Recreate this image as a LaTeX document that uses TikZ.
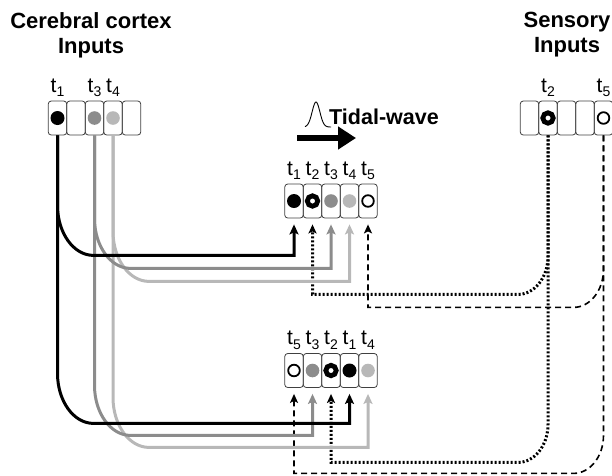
\documentclass[tikz,border=0pt]{standalone}
\usepackage{fontspec}
\setmainfont{Liberation Sans}
\usetikzlibrary{arrows.meta}

\newcommand{\tsub}[1]{t\raisebox{-4.5pt}{\fontsize{14}{14}\selectfont #1}}

\definecolor{midgrey}{gray}{0.55}
\definecolor{lightgrey}{gray}{0.72}

\tikzset{
  cell/.style={draw=black!75,line width=0.8pt,rounded corners=3pt,minimum width=18.5pt,minimum height=34pt,inner sep=0pt},
  tlab/.style={font=\fontsize{21}{21}\selectfont,inner sep=0pt,above=3.5pt},
  title/.style={font=\bfseries\fontsize{22}{25}\selectfont,align=center,anchor=north,inner sep=0pt},
  wire/.style={line width=3pt,shorten >=6pt,-{Stealth[length=10pt,width=9pt,inset=2pt]}},
  dotwire/.style={line width=3pt,dash pattern=on 2pt off 2pt,shorten >=6pt,-{Stealth[length=9pt,width=8pt,inset=2pt]}},
  dashwire/.style={line width=1.6pt,dash pattern=on 6pt off 4pt,shorten >=6pt,-{Stealth[length=9pt,width=8pt,inset=2pt]}}
}

\begin{document}
\begin{tikzpicture}[x=1pt,y=-1pt]
  \useasboundingbox (0,0) rectangle (612,475);
  \clip (0,0) rectangle (612,475);

  % titles
  \node[title] (ctxtitle) at (91,12) {Cerebral cortex\\Inputs};
  \node[title] (sentitle) at (567,12) {Sensory\\Inputs};

  % cell rows
  \foreach \i in {1,...,5} {
    \node[cell] (ctx\i) at ({39+18.5*\i},118) {};
    \node[cell] (sen\i) at ({511+18.5*\i},118) {};
    \node[cell] (top\i) at ({275.5+18.5*\i},201) {};
    \node[cell] (bot\i) at ({275.5+18.5*\i},370.5) {};
  }

  % time labels
  \foreach \i/\t in {1/1,3/3,4/4} \node[tlab] (lctx\i) at (ctx\i.north) {\tsub{\t}};
  \foreach \i/\t in {2/2,5/5} \node[tlab] (lsen\i) at (sen\i.north) {\tsub{\t}};
  \foreach \i in {1,...,5} \node[tlab] (ltop\i) at (top\i.north) {\tsub{\i}};
  \foreach \i/\t in {1/5,2/3,3/2,4/1,5/4} \node[tlab] (lbot\i) at (bot\i.north) {\tsub{\t}};

  % markers
  \foreach \c in {ctx1,top1,bot4} \fill[black] (\c) circle[radius=7pt];
  \foreach \c in {ctx3,top3,bot2} \fill[midgrey] (\c) circle[radius=6.8pt];
  \foreach \c in {ctx4,top4,bot5} \fill[lightgrey] (\c) circle[radius=6.8pt];
  \foreach \c in {sen2,top2,bot3} \draw[line width=4.8pt] (\c) circle[radius=5.2pt];
  \foreach \c in {sen5,top5,bot1} \draw[line width=1.8pt] (\c) circle[radius=5.8pt];

  % tidal wave
  \draw[line width=0.9pt] plot[domain=-11:15,samples=60] ({316+\x},{127-25*exp(-1*(\x)*(\x)/30)});
  \draw[line width=6pt,-{Triangle[length=18pt,width=22pt]}] (297,138) -- (356,138);
  \node[font=\bfseries\fontsize{21.5}{21.5}\selectfont,anchor=base west,inner sep=0pt] (tidal) at (329,124) {Tidal-wave};

  % sensory connections
  \draw[dotwire] (sen2.south) -- ++(0,121) arc[start angle=0,end angle=90,x radius=30,y radius=38] -| (top2.south);
  \draw[dotwire] (sen2.south) -- ++(0,289) arc[start angle=0,end angle=90,x radius=30,y radius=38] -| (bot3.south);
  \draw[dashwire] (sen5.south) -- ++(0,134) arc[start angle=0,end angle=90,x radius=30,y radius=38] -| (top5.south);
  \draw[dashwire] (sen5.south) -- ++(0,300) arc[start angle=0,end angle=90,x radius=30,y radius=38] -| (bot1.south);

  % cortex connections
  \draw[wire,lightgrey] (ctx4.south) -- ++(0,96) arc[start angle=180,end angle=90,x radius=36,y radius=50] -| (top4.south);
  \draw[wire,lightgrey] (ctx4.south) -- ++(0,262) arc[start angle=180,end angle=90,x radius=36,y radius=50] -| (bot5.south);
  \draw[wire,midgrey] (ctx3.south) -- ++(0,83) arc[start angle=180,end angle=90,x radius=36,y radius=50] -| (top3.south);
  \draw[wire,midgrey] (ctx3.south) -- ++(0,250) arc[start angle=180,end angle=90,x radius=36,y radius=50] -| (bot2.south);
  \draw[wire,black] (ctx1.south) -- ++(0,70) arc[start angle=180,end angle=90,x radius=36,y radius=50] -| (top1.south);
  \draw[wire,black] (ctx1.south) -- ++(0,238) arc[start angle=180,end angle=90,x radius=36,y radius=50] -| (bot4.south);
\end{tikzpicture}
\end{document}
